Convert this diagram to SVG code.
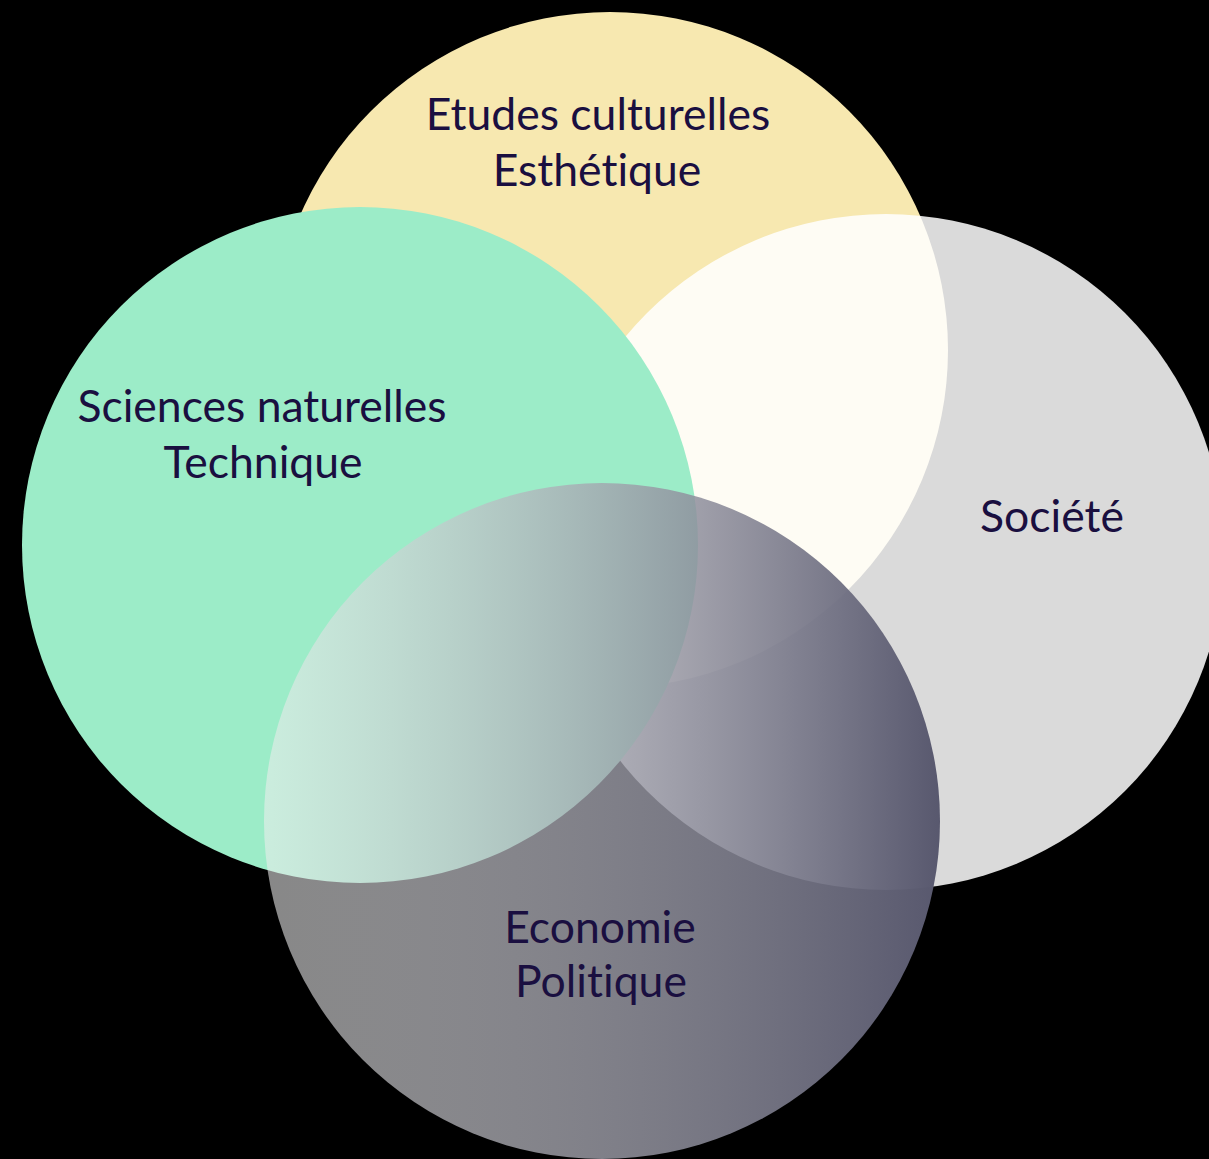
<svg xmlns="http://www.w3.org/2000/svg" width="1209" height="1159" viewBox="0 0 1209 1159">
  <defs>
    <linearGradient id="darkGrad" gradientUnits="userSpaceOnUse" x1="264" y1="0" x2="940" y2="0">
      <stop offset="0" stop-color="#eeeeee" stop-opacity="0.57"/>
      <stop offset="1" stop-color="#58586e" stop-opacity="1"/>
    </linearGradient>
  </defs>
  <style>
    .lbl { font-family: "Lato", "Open Sans", "Noto Sans", sans-serif; font-size: 44.5px; fill: #1a0f40; text-anchor: middle; font-variant-ligatures: none; font-feature-settings: "liga" 0, "clig" 0; }
  </style>
  <rect x="0" y="0" width="1209" height="1159" fill="#000000"/>
  <g id="culture">
    <circle cx="610" cy="350" r="338" fill="#f7e8b0"/>
  </g>
  <g id="societe">
    <circle cx="886" cy="552" r="338" fill="#ffffff" fill-opacity="0.855"/>
  </g>
  <g id="sciences">
    <circle cx="360" cy="545" r="338" fill="#9cecc8"/>
  </g>
  <g id="economie">
    <circle cx="602" cy="821" r="338" fill="url(#darkGrad)"/>
  </g>
  <g id="connectors"/>
  <g id="labels">
    <text class="lbl" x="598" y="130">Etudes culturelles</text>
    <text class="lbl" x="597" y="186">Esthétique</text>
    <text class="lbl" x="262" y="422">Sciences naturelles</text>
    <text class="lbl" x="263" y="478">Technique</text>
    <text class="lbl" x="1052" y="532">Société</text>
    <text class="lbl" x="600" y="943">Economie</text>
    <text class="lbl" x="601" y="997">Politique</text>
  </g>
</svg>
